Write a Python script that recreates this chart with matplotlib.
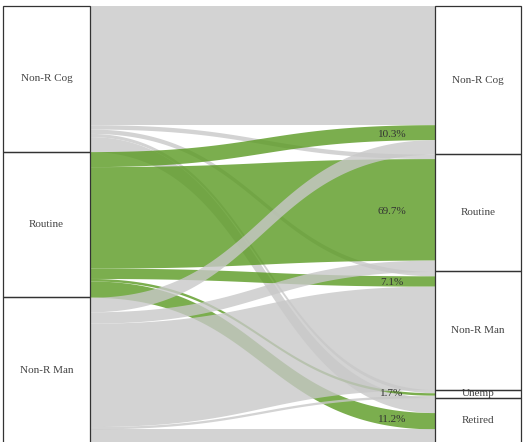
import numpy as np
import matplotlib.pyplot as plt
from matplotlib.patches import Rectangle

# occupation groups (start) and destinations (end)
sources = ["Non-R Cog", "Routine", "Non-R Man"]
targets = ["Non-R Cog", "Routine", "Non-R Man", "Unemp", "Retired"]

# share of each starting group ending up in each destination (%)
from_cog = [81.5, 3.0, 3.0, 2.2, 10.3]
from_routine = [10.3, 69.7, 7.1, 1.7, 11.2]
from_man = [10.0, 7.8, 71.0, 1.6, 9.6]

highlight = "Routine"

flows = np.array([from_cog, from_routine, from_man])

plt.rcParams['font.family'] = ['Liberation Serif', 'DejaVu Serif']

fig = plt.figure(figsize=(5.25, 4.42), dpi=100)
ax = fig.add_axes([0, 0, 1, 1])
ax.set_xlim(0, 525)
ax.set_ylim(299.4, -4.1)
ax.axis('off')

left_x0, left_x1 = 3, 90
right_x0, right_x1 = 435, 521
label_x = 392

green = '#5a9a22'
gray = '#c8c8c8'

src_tot = flows.sum(axis=1)
tgt_tot = flows.sum(axis=0)
src_top = np.concatenate([[0], np.cumsum(src_tot)[:-1]])
tgt_top = np.concatenate([[0], np.cumsum(tgt_tot)[:-1]])

# where each ribbon starts / ends inside its node
src_off = src_top[:, None] + np.cumsum(flows, axis=1) - flows
tgt_off = tgt_top[None, :] + np.cumsum(flows, axis=0) - flows

# cubic bezier, horizontal tangents at both ends
t = np.linspace(0, 1, 300)
xm = (left_x1 + right_x0) / 2
bx = (1-t)**3*left_x1 + 3*(1-t)**2*t*xm + 3*(1-t)*t**2*xm + t**3*right_x0
by = 3*t**2 - 2*t**3

for i, s in enumerate(sources):
    col = green if s == highlight else gray
    for j in range(len(targets)):
        h = flows[i, j]
        y0, y1 = src_off[i, j], tgt_off[i, j]
        ytop = y0 + (y1 - y0) * by
        ax.fill_between(bx, ytop, ytop + h, color=col, alpha=0.8, lw=0)
        if s == highlight:
            yc = np.interp(label_x, bx, ytop) + h / 2 + 1.4
            ax.text(label_x, yc, f"{h:.1f}%", ha='center', va='center',
                    fontsize=8, color='#333333', zorder=5)

def node(x0, x1, top, size, name):
    ax.add_patch(Rectangle((x0, top), x1 - x0, size, fc='white', lw=0, zorder=3))
    ax.text((x0 + x1) / 2, top + size / 2, name, ha='center', va='center',
            fontsize=8, color='#444444', zorder=3.5)
    ax.add_patch(Rectangle((x0, top), x1 - x0, size, fill=False,
                           ec='#333333', lw=0.9, zorder=4))

for i, s in enumerate(sources):
    node(left_x0, left_x1, src_top[i], src_tot[i], s)

for j, s in enumerate(targets):
    node(right_x0, right_x1, tgt_top[j], tgt_tot[j], s)

fig.savefig('out.png', dpi=100)
